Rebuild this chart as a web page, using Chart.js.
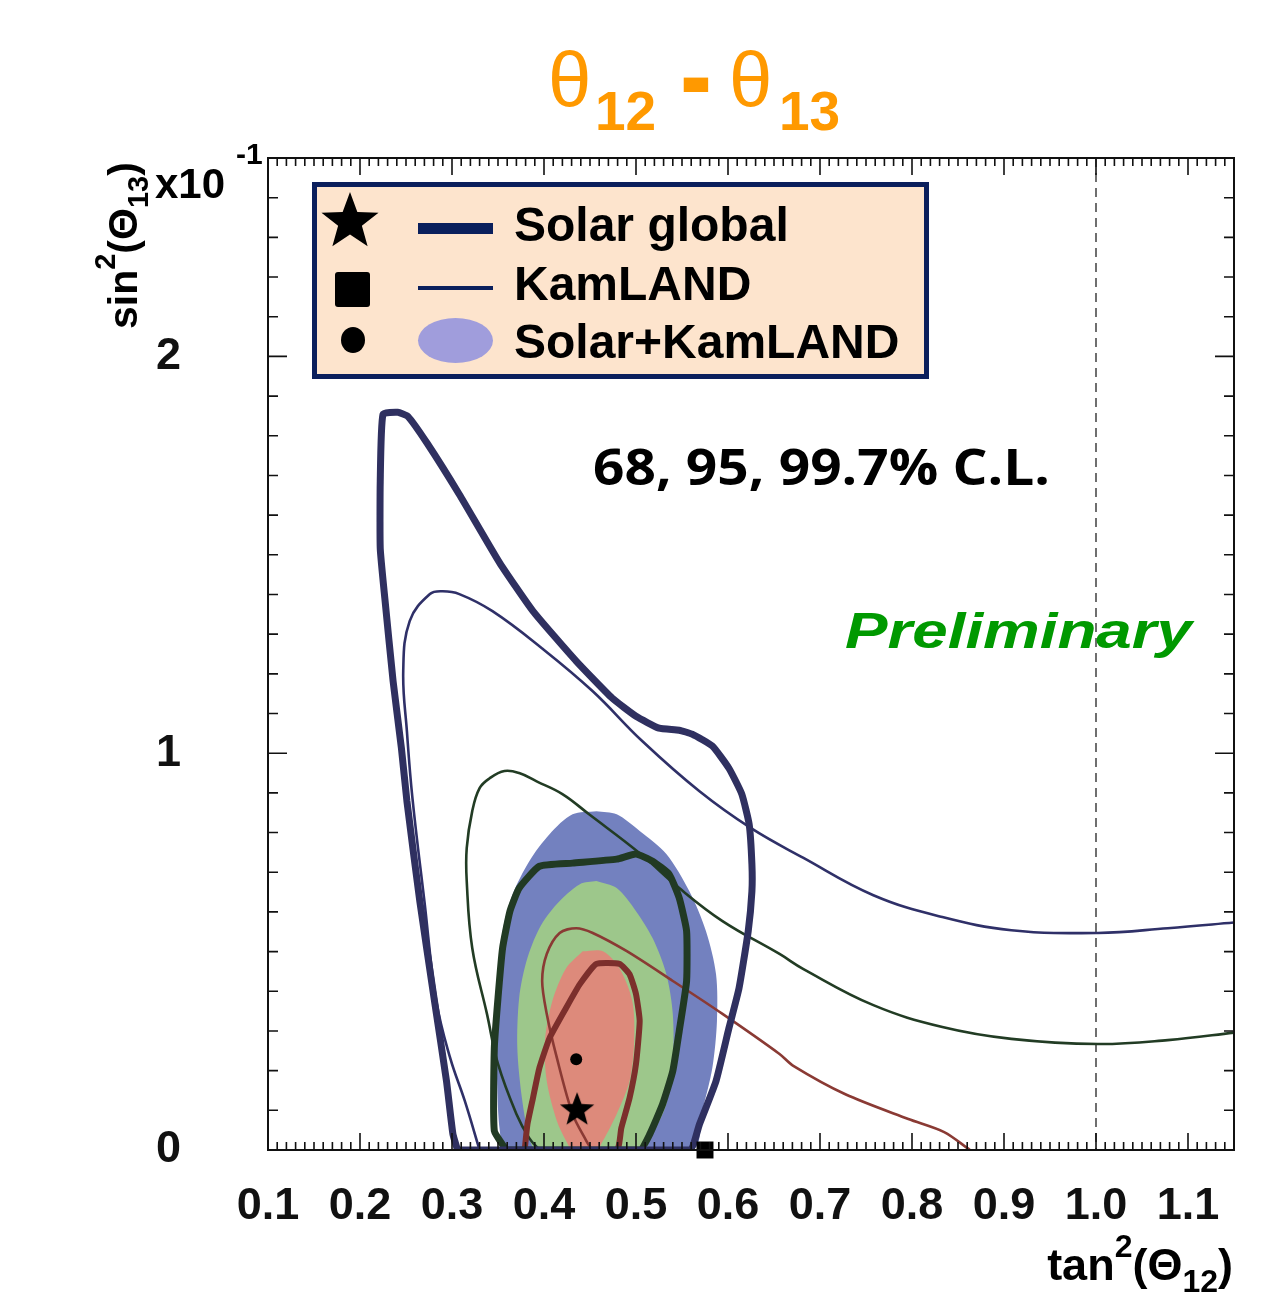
<!DOCTYPE html>
<html><head><meta charset="utf-8">
<script src="https://cdn.jsdelivr.net/npm/chart.js@4.4.1/dist/chart.umd.min.js"></script>
<style>html,body{margin:0;padding:0;background:#fff;}#wrap{position:relative;width:1271px;height:1301px;}</style>
</head><body><div id="wrap"><canvas id="c"></canvas></div>
<script>
// ---- tick labels ----
const xTickLabels = ['0.1','0.2','0.3','0.4','0.5','0.6','0.7','0.8','0.9','1.0','1.1'];
const yTickLabels = ['0','1','2'];

// ---- Solar global contours (thick lines): [tan2(th12), sin2(th13) x10^-1] ----
const solarGlobal997 = [[0.306,0],[0.301,0.040],[0.294,0.174],[0.281,0.375],[0.265,0.627],[0.251,0.879],[0.245,1.013],[0.236,1.181],[0.227,1.390],[0.222,1.516],[0.222,1.685],[0.225,1.854],[0.241,1.859],[0.252,1.849],[0.273,1.781],[0.308,1.652],[0.352,1.479],[0.388,1.358],[0.435,1.232],[0.474,1.139],[0.500,1.093],[0.525,1.063],[0.547,1.058],[0.561,1.048],[0.583,1.018],[0.601,0.962],[0.615,0.897],[0.623,0.821],[0.626,0.720],[0.626,0.652],[0.622,0.552],[0.612,0.408],[0.601,0.307],[0.587,0.174],[0.569,0.065],[0.558,0],[0.306,0]];
const solarGlobal95 = [[0.359,0],[0.346,0.048],[0.346,0.257],[0.350,0.383],[0.355,0.509],[0.363,0.602],[0.373,0.660],[0.395,0.715],[0.431,0.723],[0.479,0.733],[0.500,0.746],[0.518,0.728],[0.536,0.695],[0.547,0.635],[0.555,0.552],[0.555,0.426],[0.547,0.300],[0.540,0.199],[0.529,0.116],[0.515,0.040],[0.504,0],[0.359,0]];
const solarGlobal68 = [[0.379,0],[0.382,0.065],[0.388,0.131],[0.395,0.207],[0.406,0.282],[0.424,0.358],[0.439,0.418],[0.457,0.469],[0.482,0.469],[0.493,0.443],[0.500,0.393],[0.504,0.325],[0.500,0.217],[0.493,0.131],[0.484,0.055],[0.479,0],[0.379,0]];

// ---- KamLAND contours (thin lines) ----
const kamland997 = [[0.330,0],[0.314,0.123],[0.298,0.232],[0.283,0.375],[0.270,0.627],[0.257,0.887],[0.251,1.055],[0.247,1.207],[0.254,1.333],[0.276,1.401],[0.290,1.408],[0.308,1.401],[0.344,1.358],[0.398,1.264],[0.453,1.156],[0.507,1.030],[0.569,0.904],[0.625,0.811],[0.682,0.736],[0.758,0.642],[0.833,0.587],[0.908,0.554],[1.002,0.547],[1.078,0.559],[1.154,0.574]];
const kamland95 = [[0.395,0],[0.384,0.030],[0.370,0.091],[0.350,0.217],[0.338,0.343],[0.322,0.509],[0.316,0.678],[0.316,0.761],[0.322,0.854],[0.330,0.912],[0.341,0.937],[0.357,0.955],[0.373,0.950],[0.392,0.929],[0.420,0.897],[0.449,0.846],[0.504,0.748],[0.547,0.660],[0.594,0.577],[0.656,0.494],[0.682,0.456],[0.758,0.365],[0.833,0.310],[0.908,0.280],[1.002,0.267],[1.078,0.277],[1.154,0.297]];
const kamland68 = [[0.452,0],[0.446,0.023],[0.431,0.091],[0.414,0.232],[0.403,0.343],[0.398,0.426],[0.403,0.494],[0.417,0.547],[0.435,0.559],[0.453,0.547],[0.490,0.501],[0.540,0.426],[0.594,0.343],[0.656,0.242],[0.671,0.212],[0.727,0.141],[0.796,0.078],[0.835,0.045],[0.863,0]];

// ---- Solar+KamLAND filled regions ----
const combined997 = [[0.457,0.854],[0.479,0.846],[0.504,0.804],[0.533,0.746],[0.558,0.652],[0.576,0.552],[0.587,0.443],[0.588,0.325],[0.583,0.207],[0.572,0.098],[0.561,0],[0.359,0],[0.352,0.048],[0.349,0.174],[0.349,0.300],[0.350,0.426],[0.355,0.552],[0.366,0.645],[0.384,0.728],[0.406,0.796],[0.431,0.846],[0.457,0.854]];
const combined95 = [[0.457,0.678],[0.479,0.660],[0.500,0.602],[0.518,0.534],[0.533,0.443],[0.540,0.343],[0.540,0.217],[0.533,0.116],[0.518,0.040],[0.507,0],[0.392,0],[0.384,0.030],[0.376,0.131],[0.371,0.257],[0.373,0.383],[0.381,0.476],[0.395,0.559],[0.414,0.620],[0.439,0.670],[0.457,0.678]];
const combined68 = [[0.442,0.501],[0.464,0.501],[0.482,0.458],[0.496,0.375],[0.498,0.275],[0.493,0.174],[0.479,0.091],[0.464,0.023],[0.457,0],[0.431,0],[0.424,0.023],[0.414,0.073],[0.403,0.174],[0.401,0.275],[0.409,0.375],[0.424,0.458],[0.442,0.501]];

// ---- best-fit points ----
const bestSolarGlobal = [0.436, 0.103];
const bestKamLAND = [0.575, 0.0];
const bestCombined = [0.435, 0.229];

// ---- text ----
const legendLabels = ['Solar global', 'KamLAND', 'Solar+KamLAND'];
const clText = '68, 95, 99.7% C.L.';
const prelimText = 'Preliminary';

Chart.defaults.font.family = "'Liberation Sans', Arial, sans-serif";
Chart.defaults.color = '#111';

function starPath(ctx, cx, cy, R, r) {
  ctx.beginPath();
  for (let i = 0; i < 10; i++) {
    const a = -Math.PI / 2 + i * Math.PI / 5;
    const rad = (i % 2) ? r : R;
    ctx.lineTo(cx + rad * Math.cos(a), cy + rad * Math.sin(a));
  }
  ctx.closePath();
}
const starImg = document.createElement('canvas');
starImg.width = 38; starImg.height = 38;
{ const g = starImg.getContext('2d'); g.fillStyle = '#000'; starPath(g, 19, 20, 18, 7.6); g.fill(); }

const toXY = a => a.map(p => ({x: p[0], y: p[1]}));
function fillDs(label, pts, color, order) {
  return {label, data: toXY(pts), backgroundColor: color, borderColor: color, borderWidth: 0,
    fill: 'shape', pointRadius: 0, tension: 0.3, order};
}
function lineDs(label, pts, color, width, order, tension) {
  return {label, data: toXY(pts), borderColor: color, backgroundColor: color, borderWidth: width,
    fill: false, pointRadius: 0, tension, order, borderJoinStyle: 'round', borderCapStyle: 'round'};
}
function ptDs(label, p, style, radius, order) {
  return {label, data: [{x: p[0], y: p[1]}], showLine: false, pointStyle: style, pointRadius: radius,
    pointBackgroundColor: '#000', pointBorderColor: '#000', pointBorderWidth: 0, order, clip: false};
}
function labelFor(list, v) {
  const f = list.find(l => Math.abs(parseFloat(l) - v) < 1e-6);
  return f === undefined ? '' : f;
}

function txt(ctx, s, x, y, font, color, opts = {}) {
  ctx.save();
  ctx.font = font; ctx.fillStyle = color;
  ctx.textAlign = opts.align || 'left'; ctx.textBaseline = 'alphabetic';
  ctx.translate(x, y);
  let sx = opts.sx || 1, sy = opts.sy || 1;
  if (opts.width) sx = opts.width / ctx.measureText(s).width;
  ctx.scale(sx, sy);
  ctx.fillText(s, 0, 0);
  ctx.restore();
}
function rich(ctx, parts, x, y, align, rot) {
  ctx.save();
  ctx.translate(x, y);
  if (rot) ctx.rotate(rot);
  ctx.fillStyle = '#000'; ctx.textBaseline = 'alphabetic'; ctx.textAlign = 'left';
  const ws = parts.map(p => { ctx.font = p.f; return ctx.measureText(p.t).width; });
  const total = ws.reduce((a, b) => a + b, 0);
  let cx = align === 'right' ? -total : 0;
  parts.forEach((p, i) => { ctx.font = p.f; ctx.fillText(p.t, cx, p.dy || 0); cx += ws[i]; });
  ctx.restore();
}

const deco = {
  id: 'deco',
  beforeDatasetsDraw(chart) {
    const {ctx, chartArea: a, scales: {x}} = chart;
    const px = x.getPixelForValue(1.0);
    ctx.save(); ctx.strokeStyle = '#222'; ctx.lineWidth = 1.3; ctx.setLineDash([9, 6]);
    ctx.beginPath(); ctx.moveTo(px, a.top); ctx.lineTo(px, a.bottom); ctx.stroke(); ctx.restore();
  },
  afterDatasetsDraw(chart) {
    const {ctx, chartArea: a, scales: {x, y}} = chart;
    ctx.save();
    ctx.strokeStyle = '#111'; ctx.lineWidth = 1.6;
    ctx.beginPath();
    for (let k = 10; k <= 115; k++) {
      const px = x.getPixelForValue(k / 100);
      const len = (k % 10 === 0) ? 17 : 8;
      ctx.moveTo(px, a.bottom); ctx.lineTo(px, a.bottom - len);
      ctx.moveTo(px, a.top); ctx.lineTo(px, a.top + len);
    }
    for (let k = 0; k <= 25; k++) {
      const py = y.getPixelForValue(k / 10);
      const len = (k % 10 === 0) ? 19 : 10;
      ctx.moveTo(a.left, py); ctx.lineTo(a.left + len, py);
      ctx.moveTo(a.right, py); ctx.lineTo(a.right - len, py);
    }
    ctx.stroke();
    ctx.lineWidth = 2;
    ctx.strokeRect(a.left, a.top, a.right - a.left, a.bottom - a.top);
    ctx.restore();
  },
  afterDraw(chart) {
    const ctx = chart.ctx;
    // title
    const orange = '#FF9900';
    txt(ctx, 'θ', 548, 107, "78px 'Liberation Sans'", orange);
    txt(ctx, '12', 595, 130, "bold 55px 'Liberation Sans'", orange);
    txt(ctx, '-', 680, 116, "bold 96px 'Liberation Sans'", orange, {sy: 1.25});
    txt(ctx, 'θ', 729, 107, "78px 'Liberation Sans'", orange);
    txt(ctx, '13', 779, 130, "bold 55px 'Liberation Sans'", orange);

    // axis titles
    const B = "bold 45px 'Liberation Sans'", S = "bold 32px 'Liberation Sans'";
    rich(ctx, [{t: 'tan', f: B}, {t: '2', f: S, dy: -23}, {t: '(Θ', f: B}, {t: '12', f: S, dy: 12}, {t: ')', f: B}], 1233, 1280, 'right');
    const B2 = "bold 41px 'Liberation Sans'", S2 = "bold 29px 'Liberation Sans'";
    rich(ctx, [{t: 'sin', f: B2}, {t: '2', f: S2, dy: -22}, {t: '(Θ', f: B2}, {t: '13', f: S2, dy: 11}, {t: ')', f: B2}], 137, 329, 'left', -Math.PI / 2);
    txt(ctx, 'x10', 155, 198, "bold 42px 'Liberation Sans'", '#000');
    txt(ctx, '-1', 236, 164, "bold 30px 'Liberation Sans'", '#000');

    // annotations
    txt(ctx, clText, 593, 485, "bold 50px 'Open Sans', Lato, 'Liberation Sans'", '#000', {width: 457});
    txt(ctx, prelimText, 845, 648, "italic bold 50px 'Liberation Sans'", '#009900', {width: 347});

    // legend box
    ctx.save();
    ctx.fillStyle = '#fde4cd';
    ctx.fillRect(314, 184, 613, 193);
    ctx.strokeStyle = '#0b1f5c'; ctx.lineWidth = 5;
    ctx.strokeRect(314.5, 184.5, 612, 192);
    ctx.fillStyle = '#000';
    starPath(ctx, 350, 222, 30, 12.5); ctx.fill();
    ctx.beginPath(); ctx.roundRect(335, 272, 35, 35, 3); ctx.fill();
    ctx.beginPath(); ctx.ellipse(353, 340, 12, 13, 0, 0, Math.PI * 2); ctx.fill();
    ctx.strokeStyle = '#0a1f5c'; ctx.lineCap = 'butt';
    ctx.lineWidth = 11; ctx.beginPath(); ctx.moveTo(418, 228.5); ctx.lineTo(493, 228.5); ctx.stroke();
    ctx.lineWidth = 4; ctx.beginPath(); ctx.moveTo(418, 288); ctx.lineTo(493, 288); ctx.stroke();
    ctx.fillStyle = '#a09ddc';
    ctx.beginPath(); ctx.ellipse(455.5, 340.5, 37.5, 22.5, 0, 0, Math.PI * 2); ctx.fill();
    ctx.restore();
    const LF = "bold 48px 'Liberation Sans'";
    txt(ctx, legendLabels[0], 514, 241, LF, '#000');
    txt(ctx, legendLabels[1], 514, 300, LF, '#000');
    txt(ctx, legendLabels[2], 514, 358, LF, '#000');
  }
};

const navy = '#2f3060', dgreen = '#213a23', dred = '#7c2f2c';
new Chart(document.getElementById('c'), {
  type: 'line',
  data: {
    datasets: [
      ptDs('Solar global best fit', bestSolarGlobal, starImg, 19, 0),
      ptDs('KamLAND best fit', bestKamLAND, 'rect', 12, 0),
      ptDs('Solar+KamLAND best fit', bestCombined, 'circle', 6, 0),
      lineDs('Solar global 99.7%', solarGlobal997, navy, 7, 1, 0.15),
      lineDs('Solar global 95%', solarGlobal95, dgreen, 7, 1, 0.15),
      lineDs('Solar global 68%', solarGlobal68, dred, 6, 1, 0.15),
      lineDs('KamLAND 99.7%', kamland997, '#2f3068', 2.6, 2, 0.4),
      lineDs('KamLAND 95%', kamland95, '#223c24', 2.6, 2, 0.4),
      lineDs('KamLAND 68%', kamland68, '#8a3a34', 2.6, 2, 0.3),
      fillDs('Solar+KamLAND 68%', combined68, '#dd8a7b', 3),
      fillDs('Solar+KamLAND 95%', combined95, '#9dc78b', 4),
      fillDs('Solar+KamLAND 99.7%', combined997, '#7381bf', 5)
    ]
  },
  options: {
    responsive: true, maintainAspectRatio: false, animation: false, devicePixelRatio: 1, events: [],
    layout: {padding: {left: 118, right: 37, top: 158, bottom: 51}},
    plugins: {legend: {display: false}, tooltip: {enabled: false}, title: {display: false}},
    scales: {
      x: {type: 'linear', min: 0.1, max: 1.15,
        grid: {display: false, drawTicks: false}, border: {display: false},
        ticks: {stepSize: 0.1, includeBounds: false, autoSkip: false, maxRotation: 0, minRotation: 0, padding: 30,
          font: {size: 45, weight: 'bold'}, color: '#111', callback: v => labelFor(xTickLabels, v)},
        afterFit: s => { s.height = 100; }},
      y: {type: 'linear', min: 0, max: 2.5,
        grid: {display: false, drawTicks: false}, border: {display: false},
        ticks: {stepSize: 1, includeBounds: false, padding: 87,
          font: {size: 45, weight: 'bold'}, color: '#111', callback: v => labelFor(yTickLabels, v)},
        afterFit: s => { s.width = 150; }}
    }
  },
  plugins: [deco]
});
</script></body></html>
